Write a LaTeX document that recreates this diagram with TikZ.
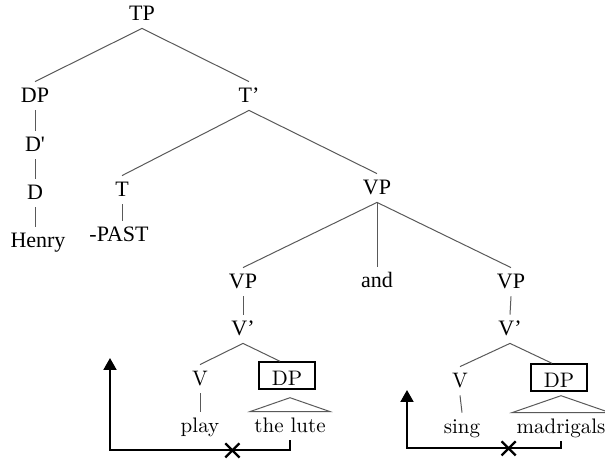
\documentclass[tikz,border=0pt]{standalone}
\usepackage{fontspec}
\newfontfamily\timesfont{Liberation Serif}
\usetikzlibrary{arrows.meta, shapes.misc, calc}

\tikzset{
  lab/.style={anchor=base, inner xsep=2pt, inner ysep=3.5pt, text height=7pt, text depth=0pt,
    font=\timesfont\fontsize{11}{13}\selectfont},
  leaf/.style={lab, font=\fontsize{10.5}{12}\selectfont},
  boxed/.style={leaf, draw, line width=0.7pt, inner xsep=6.5pt, inner ysep=0pt, text height=12pt, text depth=1.5pt},
  branch/.style={black!65, line width=0.5pt},
  move/.style={line width=1pt, -{Triangle[width=6.5pt,length=6pt]}},
  blocked/.style={cross out, draw, line width=1.1pt, minimum size=6pt, inner sep=0pt},
}

\begin{document}
\begin{tikzpicture}[x=0.5pt, y=-0.5pt]
\clip (0,0) rectangle (605,459);

\node[lab] (tp) at (142,21) {TP};
\node[lab] (dp) at (35,103) {DP};
\node[lab] (tbar) at (249,103) {T’};
\node[lab] (dbar) at (35,152) {D\textquotesingle};
\node[lab] (d) at (35,200) {D};
\node[lab] (henry) at (38,248) {Henry};
\node[lab] (t) at (122,197) {T};
\node[lab] (past) at (119,242) {-PAST};
\node[lab] (vp) at (377,195) {VP};
\node[lab] (vpl) at (243,289) {VP};
\node[lab] (and) at (377,288) {and};
\node[lab] (vpr) at (511,289) {VP};
\node[lab] (vbarl) at (243,336) {V’};
\node[lab] (vbarr) at (510,336) {V’};

\node[leaf] (vl) at (200,386) {V};
\node[boxed] (dpl) at (287,386) {DP};
\node[leaf] (vr) at (460,388) {V};
\node[boxed] (dpr) at (559,388) {DP};
\node[leaf] (play) at (200,433) {play};
\node[leaf] (lute) at (290,433) {the lute};
\node[leaf] (sing) at (462,434) {sing};
\node[leaf] (madr) at (561,434) {madrigals};

\draw[branch] (tp.south) -- (dp.north);
\draw[branch] (tp.south) -- (tbar.north);
\draw[branch] (dp.south) -- (dbar.north);
\draw[branch] (dbar.south) -- (d.north);
\draw[branch] (d.south) -- (d.south |- henry.north);
\draw[branch] (tbar.south) -- (t.north);
\draw[branch] (tbar.south) -- (vp.north);
\draw[branch] (t.south) -- (t.south |- past.north);
\draw[branch] (vp.south) -- (vpl.north);
\draw[branch] (vp.south) -- (and.north);
\draw[branch] (vp.south) -- (vpr.north);
\draw[branch] (vpl.south) -- (vbarl.north);
\draw[branch] (vpr.south) -- (vbarr.north);
\draw[branch] (vbarl.south) -- (vl.north);
\draw[branch] (vbarl.south) -- ([xshift=-3.5pt]dpl.north);
\draw[branch] (vbarr.south) -- (vr.north);
\draw[branch] (vbarr.south) -- ([xshift=-3.5pt]dpr.north);
\draw[branch] (vl.south) -- (play.north);
\draw[branch] (vr.south) -- (sing.north);

\draw[branch] ($(dpl.south -| lute.north)+(0,8)$) -- (lute.north west) -- (lute.north east) -- cycle;
\draw[branch] ($(dpr.south -| madr.north)+(0,4)$) -- (madr.north west) -- (madr.north east) -- cycle;

\coordinate (tipl) at (110,358);
\coordinate (tipr) at (407,390);
\draw[move] (lute.south) -- ++(0,10) -| node[blocked, pos=0.16] (xl) {} (tipl);
\draw[move] (madr.south) -- ++(0,7) -| node[blocked, pos=0.17] (xr) {} (tipr);
\end{tikzpicture}
\end{document}
